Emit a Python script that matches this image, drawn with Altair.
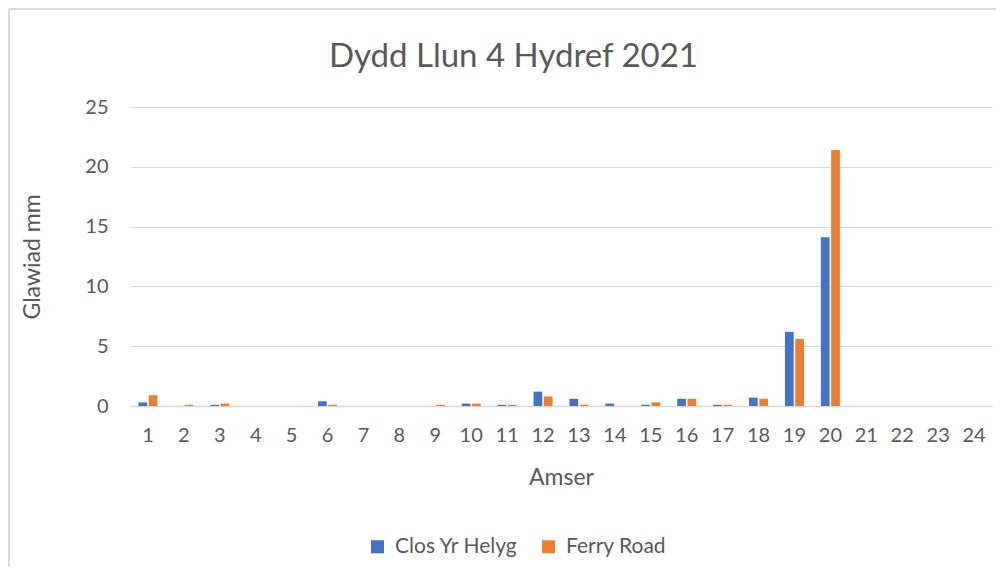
import altair as alt
import pandas as pd

hours = [str(h) for h in range(1, 25)]
clos_yr_helyg = [0.3, 0.0, 0.1, 0.0, 0.0, 0.4, 0.0, 0.0, 0.0, 0.2, 0.1, 1.2,
                 0.6, 0.2, 0.1, 0.6, 0.1, 0.7, 6.2, 14.1, 0.0, 0.0, 0.0, 0.0]
ferry_road = [0.9, 0.1, 0.2, 0.0, 0.0, 0.1, 0.0, 0.0, 0.1, 0.2, 0.1, 0.8,
              0.1, 0.0, 0.3, 0.6, 0.1, 0.6, 5.6, 21.4, 0.0, 0.0, 0.0, 0.0]
series = ["Clos Yr Helyg", "Ferry Road"]
colors = ["#4472C4", "#ED7D31"]

rows = []
for i, h in enumerate(hours):
    rows.append({"Amser": h, "Gorsaf": series[0], "Glawiad": clos_yr_helyg[i]})
    rows.append({"Amser": h, "Gorsaf": series[1], "Glawiad": ferry_road[i]})
df = pd.DataFrame(rows)

FONT = "Lato"
GREY = "#595959"
BORDER = "#d9d9d9"

bars = alt.Chart(df).mark_bar().encode(
    x=alt.X("Amser:N", sort=hours, title="Amser",
            scale=alt.Scale(paddingInner=0.47, paddingOuter=0.235),
            axis=alt.Axis(labelAngle=0, ticks=False, domainColor=BORDER,
                          domainWidth=1.5, labelPadding=19, titlePadding=21)),
    xOffset=alt.XOffset("Gorsaf:N", sort=series,
                        scale=alt.Scale(paddingInner=0.15)),
    y=alt.Y("Glawiad:Q", title="Glawiad mm",
            scale=alt.Scale(domain=[0, 25]),
            axis=alt.Axis(values=[0, 5, 10, 15, 20, 25], ticks=False, domain=False,
                          gridColor=BORDER, gridWidth=1.2, labelPadding=22,
                          titlePadding=40)),
    color=alt.Color("Gorsaf:N", sort=series,
                    scale=alt.Scale(domain=series, range=colors),
                    legend=alt.Legend(orient="none", legendX=237, legendY=429,
                                      direction="horizontal", title=None,
                                      symbolType="square", symbolSize=169,
                                      symbolStrokeWidth=0, labelFontSize=21,
                                      labelOffset=7, columnPadding=20, padding=0)),
)

one = pd.DataFrame({"k": [0]})
top_border = alt.Chart(one).mark_rule(color=BORDER, strokeWidth=2).encode(
    x=alt.value(-121), x2=alt.value(866), y=alt.value(-98)
)
left_border = alt.Chart(one).mark_rule(color=BORDER, strokeWidth=2).encode(
    x=alt.value(-121), y=alt.value(-98), y2=alt.value(460)
)

chart = alt.layer(top_border, left_border, bars).properties(
    width=862,
    height=299,
    padding=0,
    title=alt.TitleParams("Dydd Llun 4 Hydref 2021", fontSize=33, font=FONT,
                          fontWeight="normal", color=GREY, offset=-66, dx=11,
                          anchor="middle", frame="bounds"),
).configure_axis(
    labelFont=FONT, titleFont=FONT, labelColor=GREY, titleColor=GREY,
    labelFontSize=20, titleFontSize=23, titleFontWeight="normal",
).configure_legend(
    labelFont=FONT, labelColor=GREY,
).configure_view(
    stroke=None,
)

chart.save("out.html", embed_options={"renderer": "svg", "actions": False})
